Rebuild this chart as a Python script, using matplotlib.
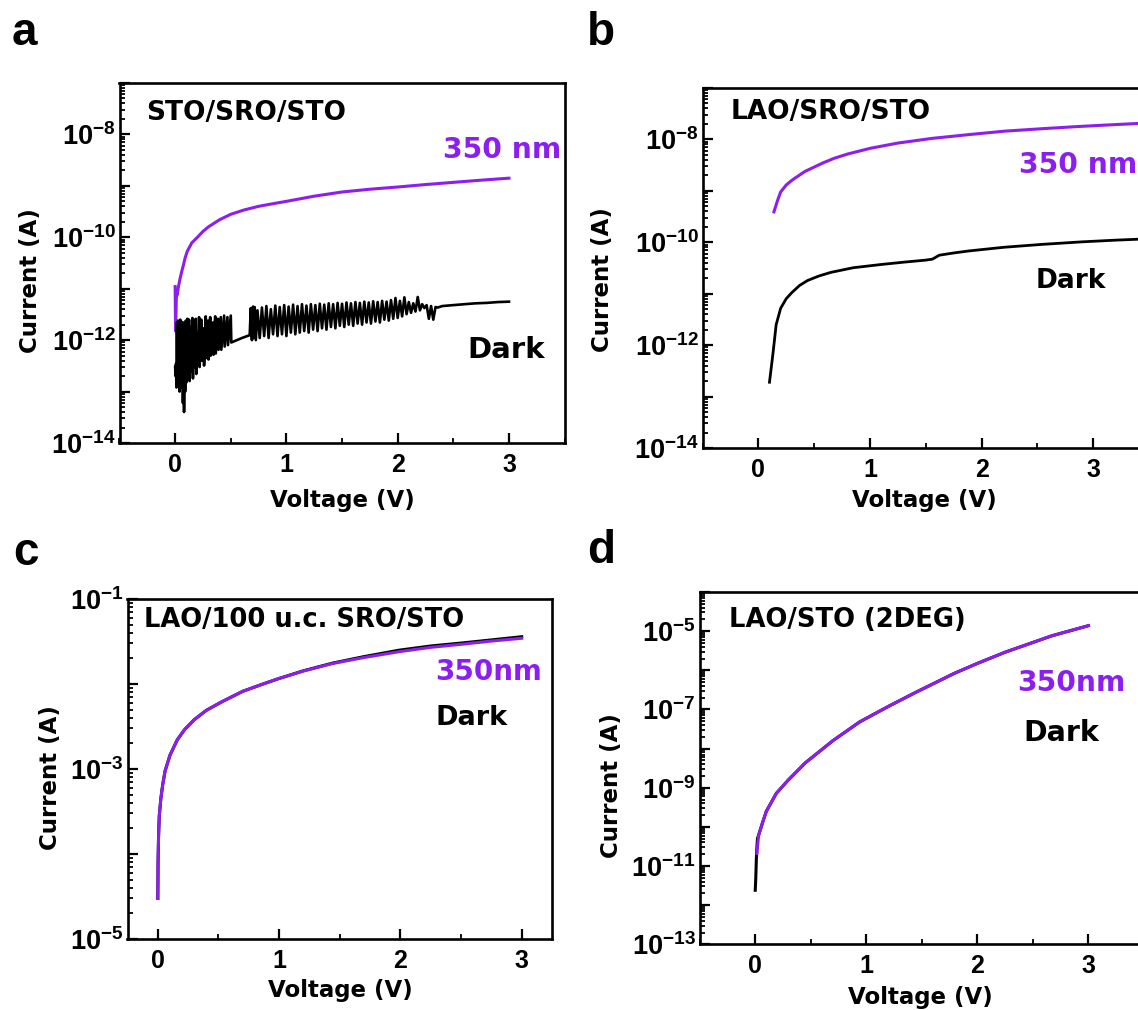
import numpy as np
import matplotlib
matplotlib.use("Agg")
import matplotlib.pyplot as plt
from matplotlib.ticker import LogLocator, MultipleLocator, FuncFormatter, NullFormatter

plt.rcParams['mathtext.fontset'] = 'custom'
plt.rcParams['mathtext.rm'] = 'Liberation Sans:bold'
plt.rcParams['mathtext.bf'] = 'Liberation Sans:bold'
plt.rcParams['mathtext.it'] = 'Liberation Sans:bold'
plt.rcParams['mathtext.default'] = 'rm'

PURPLE = '#8C1EF0'
W, H = 1138, 1010

# ---------------- data ----------------
# panel a : STO/SRO/STO
a_uv_v = [0.000, 0.004, 0.012, 0.018, 0.030, 0.045, 0.060, 0.075, 0.09, 0.11, 0.15, 0.20, 0.25, 0.30,
          0.40, 0.50, 0.62, 0.75, 0.88, 1.00, 1.25, 1.50, 1.75, 2.00, 2.25, 2.50, 2.75, 3.00]
a_uv_i = [1.1e-11, 1.5e-12, 8.5e-12, 7.5e-12, 1.1e-11, 1.6e-11, 2.2e-11, 2.9e-11, 4.0e-11, 5.4e-11,
          7.8e-11, 1.0e-10, 1.3e-10, 1.6e-10, 2.2e-10, 2.8e-10, 3.4e-10, 4.0e-10, 4.5e-10, 5.0e-10,
          6.3e-10, 7.6e-10, 8.6e-10, 9.5e-10, 1.06e-9, 1.17e-9, 1.29e-9, 1.41e-9]

a_dark_v = [0.000, 0.004, 0.008, 0.012, 0.016, 0.020, 0.026, 0.030, 0.036, 0.040, 0.046, 0.050, 0.056,
            0.060, 0.066, 0.070, 0.076, 0.080, 0.086, 0.090, 0.096, 0.100, 0.110, 0.115, 0.125, 0.130,
            0.140, 0.145, 0.155, 0.160, 0.170, 0.175, 0.185, 0.190, 0.200, 0.205, 0.215, 0.220, 0.235,
            0.240, 0.255, 0.260, 0.275, 0.280, 0.295, 0.300, 0.315, 0.320, 0.340, 0.345, 0.360, 0.365,
            0.385, 0.390, 0.410, 0.415, 0.440, 0.445, 0.470, 0.475, 0.500, 0.505, 0.600, 0.670, 0.680,
            0.690, 0.700, 0.705, 0.715, 0.725, 0.74, 0.76, 0.78, 0.80, 0.82, 0.84, 0.86, 0.88, 0.90,
            0.92, 0.94, 0.96, 0.98, 1.00, 1.02, 1.04, 1.06, 1.08, 1.10, 1.12, 1.14, 1.16, 1.18, 1.20,
            1.22, 1.24, 1.26, 1.28, 1.30, 1.32, 1.34, 1.36, 1.38, 1.40, 1.42, 1.44, 1.46, 1.48, 1.50,
            1.52, 1.54, 1.56, 1.58, 1.60, 1.62, 1.64, 1.66, 1.68, 1.70, 1.72, 1.74, 1.76, 1.78, 1.80,
            1.82, 1.84, 1.86, 1.88, 1.90, 1.92, 1.94, 1.96, 1.98, 2.00, 2.02, 2.04, 2.06, 2.08, 2.10,
            2.12, 2.14, 2.16, 2.18, 2.20, 2.22, 2.24, 2.26, 2.28, 2.30, 2.32, 2.34, 2.36, 2.40, 2.50,
            2.60, 2.70, 2.80, 2.90, 3.00]
a_dark_i = [3.0e-13, 2.0e-13, 3.5e-13, 1.2e-13, 2.2e-12, 1.5e-13, 2.4e-12, 2.0e-13, 2.0e-12, 1.0e-13,
            2.5e-12, 1.8e-13, 2.3e-12, 1.2e-13, 1.6e-12, 6.0e-14, 2.2e-12, 4.0e-14, 1.0e-12, 1.0e-13,
            2.4e-12, 1.5e-13, 2.6e-12, 2.0e-13, 2.5e-12, 1.6e-13, 1.8e-12, 2.5e-13, 2.7e-12, 1.8e-13,
            2.2e-12, 3.0e-13, 2.6e-12, 2.2e-13, 1.4e-12, 3.2e-13, 2.8e-12, 3.0e-13, 2.5e-12, 4.0e-13,
            1.7e-12, 3.2e-13, 2.9e-12, 4.5e-13, 2.4e-12, 4.2e-13, 2.8e-12, 5.0e-13, 2.2e-12, 5.2e-13,
            2.9e-12, 5.5e-13, 2.6e-12, 6.5e-13, 2.8e-12, 6.5e-13, 3.0e-12, 7.5e-13, 2.8e-12, 8.0e-13,
            3.0e-12, 9.0e-13, 1.1e-12, 1.25e-12, 4.2e-12, 1.0e-12, 4.5e-12, 1.1e-12, 4.4e-12, 1.0e-12,
            3.8e-12, 1.1e-12, 4.3e-12, 1.2e-12, 4.6e-12, 1.1e-12, 4.0e-12, 1.3e-12, 4.7e-12, 1.2e-12,
            4.4e-12, 1.3e-12, 4.8e-12, 1.2e-12, 4.5e-12, 1.4e-12, 4.9e-12, 1.3e-12, 4.6e-12, 1.4e-12,
            5.0e-12, 1.5e-12, 4.7e-12, 1.4e-12, 5.0e-12, 1.6e-12, 4.8e-12, 1.5e-12, 5.1e-12, 1.7e-12,
            4.9e-12, 1.6e-12, 5.2e-12, 1.8e-12, 5.0e-12, 1.7e-12, 5.3e-12, 1.9e-12, 5.1e-12, 1.8e-12,
            5.4e-12, 2.0e-12, 5.2e-12, 1.9e-12, 5.5e-12, 2.1e-12, 5.3e-12, 2.0e-12, 5.6e-12, 2.2e-12,
            5.4e-12, 2.1e-12, 5.7e-12, 2.3e-12, 5.5e-12, 2.2e-12, 5.8e-12, 2.5e-12, 5.6e-12, 2.4e-12,
            6.0e-12, 2.6e-12, 6.6e-12, 2.7e-12, 5.8e-12, 2.9e-12, 6.8e-12, 3.2e-12, 5.5e-12, 3.4e-12,
            5.2e-12, 3.6e-12, 6.9e-12, 3.8e-12, 5.0e-12, 4.2e-12, 4.8e-12, 2.6e-12, 4.6e-12, 2.5e-12,
            4.4e-12, 4.3e-12, 4.6e-12, 4.8e-12, 5.0e-12, 5.2e-12, 5.3e-12, 5.5e-12, 5.6e-12]

# panel b : LAO/SRO/STO
b_uv_v = [0.14, 0.17, 0.20, 0.25, 0.30, 0.35, 0.42, 0.50, 0.58, 0.68, 0.80, 1.00, 1.25, 1.56, 1.90,
          2.21, 2.55, 2.86, 3.15, 3.40, 3.50]
b_uv_i = [3.9e-10, 6.3e-10, 9.5e-10, 1.3e-9, 1.6e-9, 1.9e-9, 2.4e-9, 2.9e-9, 3.5e-9, 4.3e-9, 5.2e-9,
          6.7e-9, 8.5e-9, 1.05e-8, 1.25e-8, 1.45e-8, 1.62e-8, 1.78e-8, 1.92e-8, 2.04e-8, 2.08e-8]
b_dark_v = [0.10, 0.13, 0.16, 0.20, 0.25, 0.30, 0.37, 0.44, 0.54, 0.65, 0.85, 1.10, 1.30, 1.50,
            1.56, 1.62, 1.75, 1.89, 2.20, 2.54, 2.90, 3.20, 3.50]
b_dark_i = [1.9e-13, 6.5e-13, 2.5e-12, 5.2e-12, 8.0e-12, 1.05e-11, 1.45e-11, 1.8e-11, 2.2e-11, 2.6e-11,
            3.2e-11, 3.7e-11, 4.1e-11, 4.5e-11, 4.7e-11, 5.6e-11, 6.2e-11, 6.8e-11, 8.0e-11, 9.1e-11,
            1.02e-10, 1.1e-10, 1.17e-10]

# panel c : LAO/100 u.c. SRO/STO
c_v = [0.0, 0.002, 0.006, 0.012, 0.025, 0.04, 0.06, 0.10, 0.16, 0.22, 0.30, 0.40, 0.53, 0.70, 0.85,
       0.99, 1.20, 1.44, 1.70, 1.99, 2.25, 2.52, 2.75, 3.00]
c_uv_i = [3.0e-5, 8.0e-5, 1.6e-4, 2.8e-4, 4.5e-4, 6.5e-4, 9.5e-4, 1.45e-3, 2.2e-3, 2.9e-3, 3.8e-3,
          4.9e-3, 6.2e-3, 8.2e-3, 9.8e-3, 1.15e-2, 1.42e-2, 1.74e-2, 2.05e-2, 2.4e-2, 2.7e-2, 2.95e-2,
          3.2e-2, 3.45e-2]
c_dark_i = [3.0e-5, 8.0e-5, 1.6e-4, 2.8e-4, 4.5e-4, 6.5e-4, 9.5e-4, 1.45e-3, 2.2e-3, 2.9e-3, 3.8e-3,
            4.9e-3, 6.2e-3, 8.2e-3, 9.8e-3, 1.15e-2, 1.43e-2, 1.76e-2, 2.1e-2, 2.5e-2, 2.8e-2, 3.05e-2,
            3.3e-2, 3.6e-2]

# panel d : LAO/STO (2DEG)
d_dark_v = [0.0, 0.005, 0.010, 0.015, 0.020, 0.065, 0.10, 0.19, 0.30, 0.45, 0.70, 0.94, 1.20, 1.43,
            1.79, 2.00, 2.25, 2.67, 3.00]
d_dark_i = [2.4e-12, 5.0e-12, 1.5e-11, 3.0e-11, 5.0e-11, 1.26e-10, 2.5e-10, 7.2e-10, 1.6e-9, 4.3e-9,
            1.6e-8, 4.8e-8, 1.2e-7, 2.6e-7, 8.3e-7, 1.5e-6, 2.9e-6, 7.6e-6, 1.38e-5]
d_uv_v = [0.015, 0.030, 0.065, 0.10, 0.19, 0.30, 0.45, 0.70, 0.94, 1.20, 1.43, 1.79, 2.00, 2.25,
          2.67, 3.00]
d_uv_i = [2.1e-11, 6.0e-11, 1.26e-10, 2.5e-10, 7.2e-10, 1.6e-9, 4.3e-9, 1.6e-8, 4.8e-8, 1.2e-7,
          2.6e-7, 8.3e-7, 1.5e-6, 2.9e-6, 7.6e-6, 1.38e-5]

# ---------------- figure ----------------
fig = plt.figure(figsize=(W / 100, H / 100), dpi=100)


def px_axes(l, r, t, b):
    return fig.add_axes([l / W, 1 - b / H, (r - l) / W, (b - t) / H])


def style(ax, xlim, ylim, lab_exps):
    ax.set_yscale('log')
    ax.set_xlim(*xlim)
    ax.set_ylim(*ylim)
    ax.yaxis.set_major_locator(LogLocator(base=10, numticks=30))
    ax.yaxis.set_minor_locator(LogLocator(base=10, subs=np.arange(2, 10), numticks=30))
    ax.yaxis.set_minor_formatter(NullFormatter())

    def fmt(v, pos):
        e = int(round(np.log10(v)))
        return r'$10^{%d}$' % e if e in lab_exps else ''
    ax.yaxis.set_major_formatter(FuncFormatter(fmt))
    ax.xaxis.set_major_locator(MultipleLocator(1))
    ax.xaxis.set_minor_locator(MultipleLocator(0.5))
    ax.tick_params(which='both', direction='in', top=False, right=False)
    ax.tick_params(which='major', length=7, width=1.6)
    ax.tick_params(which='minor', length=3.5, width=1.3)
    ax.tick_params(axis='x', pad=7)
    ax.tick_params(axis='y', pad=3)
    for lab in ax.get_xticklabels():
        lab.set_fontfamily('Liberation Sans')
        lab.set_fontweight('bold')
        lab.set_fontsize(18)
    for lab in ax.get_yticklabels():
        lab.set_fontfamily('Liberation Sans')
        lab.set_fontweight('bold')
        lab.set_fontsize(19.5)
    for s in ax.spines.values():
        s.set_linewidth(1.9)


def ftext(x, y, s, size, color='black', family='DejaVu Sans', **kw):
    fig.text(x / W, 1 - y / H, s, fontsize=size, color=color, fontweight='bold',
             family=family, **kw)


# panel a
axa = px_axes(119.5, 564.6, 83, 443)
axa.plot(a_uv_v, a_uv_i, color=PURPLE, lw=2.2, zorder=2)
axa.plot(a_dark_v, a_dark_i, color='black', lw=1.9, zorder=3)
style(axa, (-0.5, 3.5), (1e-14, 1e-7), [-8, -10, -12, -14])

# panel b
axb = px_axes(702.5, 1149, 88, 448)
axb.plot(b_uv_v, b_uv_i, color=PURPLE, lw=2.2)
axb.plot(b_dark_v, b_dark_i, color='black', lw=2.0)
style(axb, (-0.5, 3.5), (1e-14, 1e-7), [-8, -10, -12, -14])

# panel c
axc = px_axes(127.5, 552, 599, 939)
axc.plot(c_v, c_dark_i, color='black', lw=2.2)
axc.plot(c_v, c_uv_i, color=PURPLE, lw=2.2)
style(axc, (-0.25, 3.25), (1e-5, 1e-1), [-1, -3, -5])

# panel d
axd = px_axes(699.7, 1144, 592, 944.3)
axd.plot(d_dark_v, d_dark_i, color='black', lw=2.2)
axd.plot(d_uv_v, d_uv_i, color=PURPLE, lw=2.2)
style(axd, (-0.5, 3.5), (1e-13, 1e-4), [-5, -7, -9, -11, -13])

# axis labels
for (cx, by) in [(342, 507), (924, 507), (340, 997), (920.5, 1004)]:
    ftext(cx, by, 'Voltage (V)', 16.5, ha='center', va='baseline')
for (cx, cy) in [(31, 281), (602, 280), (50, 778), (611.5, 785.5)]:
    ftext(cx, cy, 'Current (A)', 16.5, ha='center', va='center', rotation=90)

# in-panel labels
ftext(146, 120, 'STO/SRO/STO', 19, va='baseline')
ftext(443, 158, '350 nm', 20.3, color=PURPLE, va='baseline')
ftext(467, 358, 'Dark', 21, va='baseline')

ftext(731, 119, 'LAO/SRO/STO', 19, va='baseline')
ftext(1019, 173, '350 nm', 20.3, color=PURPLE, va='baseline')
ftext(1036, 288, 'Dark', 19, va='baseline')

ftext(144, 627, 'LAO/100 u.c. SRO/STO', 18.5, va='baseline')
ftext(435, 680, '350nm', 20, color=PURPLE, va='baseline')
ftext(435, 725, 'Dark', 19.5, va='baseline')

ftext(729, 627, 'LAO/STO (2DEG)', 18.6, va='baseline')
ftext(1017, 691, '350nm', 20.3, color=PURPLE, va='baseline')
ftext(1023, 741, 'Dark', 20.5, va='baseline')

# panel letters
for (x, y, s) in [(12, 45, 'a'), (587, 45, 'b'), (13, 565, 'c'), (587, 563, 'd')]:
    ftext(x, y, s, 33, family='Liberation Sans', va='baseline')

fig.savefig('out.png', dpi=100)
